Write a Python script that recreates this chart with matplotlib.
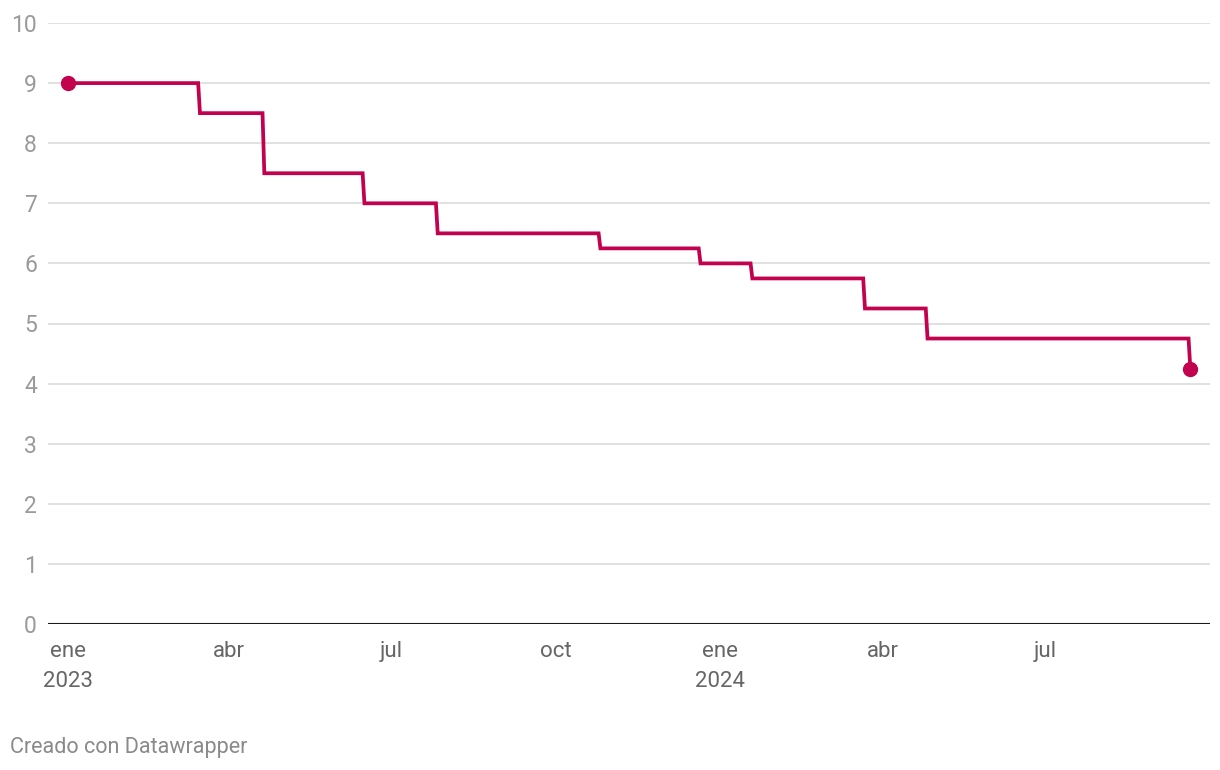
import matplotlib
matplotlib.use('Agg')
import matplotlib.pyplot as plt
import matplotlib.dates as mdates
import numpy as np
from datetime import date, timedelta

plt.rcParams['font.family'] = ['Roboto', 'DejaVu Sans']

# tasa de política (step changes)
start_date = date(2023, 1, 1)
start_value = 9.0
change_dates = [date(2023, 3, 16), date(2023, 4, 21), date(2023, 6, 16), date(2023, 7, 27),
                date(2023, 10, 26), date(2023, 12, 21), date(2024, 1, 19), date(2024, 3, 22),
                date(2024, 4, 26), date(2024, 9, 20)]
new_values = [8.5, 7.5, 7.0, 6.5, 6.25, 6.0, 5.75, 5.25, 4.75, 4.25]

tick_dates = [date(2023, 1, 1), date(2023, 4, 1), date(2023, 7, 1), date(2023, 10, 1),
              date(2024, 1, 1), date(2024, 4, 1), date(2024, 7, 1)]
tick_labels = ['ene\n2023', 'abr', 'jul', 'oct', 'ene\n2024', 'abr', 'jul']
yticks = list(range(0, 11))

# build daily-style series: old value the day before the change, new value on the day
xs = [start_date]
ys = [start_value]
prev = start_value
for d, v in zip(change_dates, new_values):
    xs.append(d - timedelta(days=1))
    ys.append(prev)
    xs.append(d)
    ys.append(v)
    prev = v

red = '#c2024f'

fig = plt.figure(figsize=(12.2, 7.7), dpi=100)
ax = fig.add_axes([48 / 1220, (770 - 624) / 770, (1210 - 48) / 1220, (624 - 23) / 770])

ax.plot(xs, ys, color=red, lw=2.7, solid_joinstyle='miter', zorder=3)
ax.plot([xs[0], xs[-1]], [ys[0], ys[-1]], 'o', color=red, ms=10, zorder=4)

ax.set_xlim(start_date - timedelta(days=11), xs[-1] + timedelta(days=11))
ax.set_ylim(0, 10)

ax.set_yticks(yticks)
ax.set_yticklabels([str(t) for t in yticks])
for t in yticks[1:]:
    ax.axhline(t, color='#e1e1e1', lw=1.4, zorder=1)
ax.axhline(0, color='#1a1a1a', lw=1.5, zorder=2)

ax.set_xticks(tick_dates)
ax.set_xticklabels(tick_labels)
ax.tick_params(axis='x', length=0, pad=12, labelsize=16, labelcolor='#666666')
ax.tick_params(axis='y', length=0, pad=8, labelsize=16.5, labelcolor='#9a9a9a')
for lab in ax.get_xticklabels():
    lab.set_linespacing(1.6)

for s in ax.spines.values():
    s.set_visible(False)

fig.text(10 / 1220, 1 - 748 / 770, 'Creado con Datawrapper', fontsize=15.5, color='#8a8a8a',
         ha='left', va='center')

fig.savefig('out.png', dpi=100)
